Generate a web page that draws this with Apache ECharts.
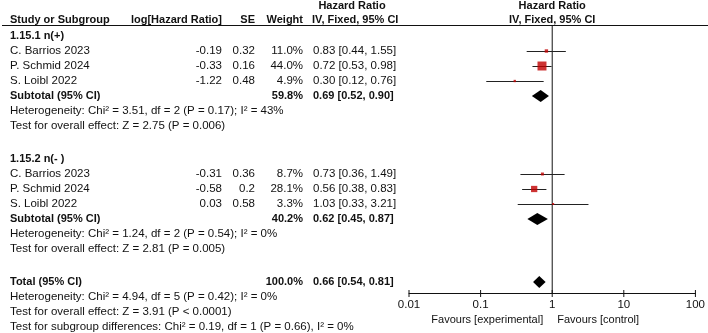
<!DOCTYPE html>
<html>
<head>
<meta charset="utf-8">
<script src="https://cdn.jsdelivr.net/npm/echarts@6/dist/echarts.min.js"></script>
<style>
html,body{margin:0;padding:0;background:#fff;}
#chart{width:708px;height:333px;}
</style>
</head>
<body>
<div id="chart"></div>
<script>
// data
const groupNames = ['1.15.1 n(+)', '1.15.2 n(- )'];
const studyNames = [
  ['C. Barrios 2023', 'P. Schmid 2024', 'S. Loibl 2022'],
  ['C. Barrios 2023', 'P. Schmid 2024', 'S. Loibl 2022']
];
const logHR = [[-0.19, -0.33, -1.22], [-0.31, -0.58, 0.03]];
const seVals = [[0.32, 0.16, 0.48], [0.36, 0.2, 0.58]];
const weights = [[11.0, 44.0, 4.9], [8.7, 28.1, 3.3]];
const hrEst = [[0.83, 0.72, 0.30], [0.73, 0.56, 1.03]];
const hrLow = [[0.44, 0.53, 0.12], [0.36, 0.38, 0.33]];
const hrHigh = [[1.55, 0.98, 0.76], [1.49, 0.83, 3.21]];

const subWeight = [59.8, 40.2];
const subEst = [0.69, 0.62];
const subLow = [0.52, 0.45];
const subHigh = [0.90, 0.87];
const subHetero = [
  'Heterogeneity: Chi\u00b2 = 3.51, df = 2 (P = 0.17); I\u00b2 = 43%',
  'Heterogeneity: Chi\u00b2 = 1.24, df = 2 (P = 0.54); I\u00b2 = 0%'
];
const subEffect = [
  'Test for overall effect: Z = 2.75 (P = 0.006)',
  'Test for overall effect: Z = 2.81 (P = 0.005)'
];

const totalWeight = 100.0;
const totalEst = 0.66;
const totalLow = 0.54;
const totalHigh = 0.81;
const totalNotes = [
  'Heterogeneity: Chi\u00b2 = 4.94, df = 5 (P = 0.42); I\u00b2 = 0%',
  'Test for overall effect: Z = 3.91 (P < 0.0001)',
  'Test for subgroup differences: Chi\u00b2 = 0.19, df = 1 (P = 0.66), I\u00b2 = 0%'
];

const axisTicks = [0.01, 0.1, 1, 10, 100];
const nullValue = 1;
const favourLeft = 'Favours [experimental]';
const favourRight = 'Favours [control]';

// layout
const FONT = 'Liberation Sans, Arial, sans-serif';
const TXT = '#111';
const ROW0 = 36, ROWH = 15, GAP = 2.2;
const GRID_TOP = 25, AXIS_Y = 293;
const Y_MIN = (GRID_TOP - ROW0) / ROWH, Y_MAX = (AXIS_Y - ROW0) / ROWH;

const fmtCI = (e, l, h) => e.toFixed(2) + ' [' + l.toFixed(2) + ', ' + h.toFixed(2) + ']';

let r = 0;
const textRows = [];
const ciData = [], sqData = [], dmData = [];
groupNames.forEach((g, gi) => {
  textRows.push({row: r, name: g, bold: true});
  studyNames[gi].forEach((s, i) => {
    r++;
    textRows.push({
      row: r, name: s,
      lhr: String(logHR[gi][i]), se: String(seVals[gi][i]),
      w: weights[gi][i].toFixed(1) + '%',
      ci: fmtCI(hrEst[gi][i], hrLow[gi][i], hrHigh[gi][i])
    });
    ciData.push([hrLow[gi][i], hrHigh[gi][i], r]);
    sqData.push([hrEst[gi][i], r, weights[gi][i]]);
  });
  r++;
  textRows.push({row: r, name: 'Subtotal (95% CI)', bold: true,
    w: subWeight[gi].toFixed(1) + '%', ci: fmtCI(subEst[gi], subLow[gi], subHigh[gi])});
  dmData.push([subEst[gi], subLow[gi], subHigh[gi], r]);
  r++;
  textRows.push({row: r, name: subHetero[gi]});
  r++;
  textRows.push({row: r, name: subEffect[gi]});
  r += GAP;
});
textRows.push({row: r, name: 'Total (95% CI)', bold: true,
  w: totalWeight.toFixed(1) + '%', ci: fmtCI(totalEst, totalLow, totalHigh)});
dmData.push([totalEst, totalLow, totalHigh, r]);
totalNotes.forEach(t => { r++; textRows.push({row: r, name: t}); });

const chart = echarts.init(document.getElementById('chart'));

chart.setOption({
  animation: false,
  grid: {left: 409, right: 12, top: GRID_TOP, bottom: 333 - AXIS_Y},
  xAxis: {
    type: 'log', logBase: 10, min: 0.01, max: 100,
    splitLine: {show: false},
    axisLine: {show: true, onZero: false, lineStyle: {color: '#111', width: 1}},
    axisTick: {show: false},
    axisLabel: {
      margin: 6,
      fontFamily: FONT, fontSize: 11.5, color: TXT,
      formatter: v => String(axisTicks.find(t => Math.abs(Math.log10(t) - Math.log10(v)) < 1e-6) ?? v)
    }
  },
  yAxis: {
    type: 'value', inverse: true,
    min: Y_MIN, max: Y_MAX,
    axisLine: {show: false}, axisTick: {show: false},
    axisLabel: {show: false}, splitLine: {show: false}
  },
  series: [
    {
      // line of no effect as a plain two-point line series
      type: 'line',
      data: [[nullValue, Y_MIN], [nullValue, Y_MAX]],
      showSymbol: false,
      symbol: 'none',
      lineStyle: {color: '#111', width: 1},
      z: 1
    },
    {
      type: 'custom',
      data: ciData,
      encode: {x: [0, 1], y: 2},
      renderItem: (params, api) => {
        const a = api.coord([api.value(0), api.value(2)]);
        const b = api.coord([api.value(1), api.value(2)]);
        const y = Math.round(a[1]) + 0.5;
        return {
          type: 'line',
          shape: {x1: a[0], y1: y, x2: b[0], y2: y},
          style: {stroke: '#222', lineWidth: 1}
        };
      }
    },
    {
      type: 'scatter',
      data: sqData,
      encode: {x: 0, y: 1},
      symbol: 'rect',
      symbolSize: v => 1.5 + 0.17 * v[2],
      itemStyle: {color: '#c00000'}
    },
    {
      type: 'custom',
      data: dmData,
      encode: {x: [1, 2], y: 3},
      renderItem: (params, api) => {
        const row = api.value(3);
        const c = api.coord([api.value(0), row]);
        const l = api.coord([api.value(1), row]);
        const h = api.coord([api.value(2), row]);
        return {
          type: 'polygon',
          shape: {points: [[l[0], c[1]], [c[0], c[1] - 6], [h[0], c[1]], [c[0], c[1] + 6]]},
          style: {fill: '#000'}
        };
      }
    }
  ]
});

// table text and crossing ticks placed through the chart's own scales
const rowY = row => chart.convertToPixel({yAxisIndex: 0}, row);
const colX = v => chart.convertToPixel({xAxisIndex: 0}, v);
const xOne = colX(nullValue);
const g = [];
const txt = (text, x, y, align, bold, size) => g.push({
  type: 'text', silent: true,
  style: {
    text: text, x: x, y: y,
    textAlign: align, textVerticalAlign: 'middle',
    font: (bold ? 'bold 11px ' : (size || 11.5) + 'px ') + FONT,
    fill: TXT
  }
});
const yAxisPx = rowY(Y_MAX);
axisTicks.forEach(v => {
  const x = colX(v);
  g.push({
    type: 'line', silent: true, z: 10,
    shape: {x1: x, y1: yAxisPx - 3, x2: x + 0.01, y2: yAxisPx + 4},
    style: {stroke: '#111', lineWidth: 1}
  });
});

const hy1 = ROW0 - 30, hy2 = ROW0 - 16;
txt('Hazard Ratio', 352, hy1, 'center', true);
txt('Study or Subgroup', 10, hy2, 'left', true);
txt('log[Hazard Ratio]', 222, hy2, 'right', true);
txt('SE', 255, hy2, 'right', true);
txt('Weight', 303, hy2, 'right', true);
txt('IV, Fixed, 95% CI', 312, hy2, 'left', true);
txt('Hazard Ratio', xOne, hy1, 'center', true);
txt('IV, Fixed, 95% CI', xOne, hy2, 'center', true);
g.push({
  type: 'line', silent: true,
  shape: {x1: 2, y1: GRID_TOP + 0.5, x2: 708, y2: GRID_TOP + 0.5},
  style: {stroke: '#111', lineWidth: 1}
});

textRows.forEach(t => {
  const y = rowY(t.row);
  txt(t.name, 10, y, 'left', t.bold);
  if (t.lhr) txt(t.lhr, 222, y, 'right', false);
  if (t.se) txt(t.se, 255, y, 'right', false);
  if (t.w) txt(t.w, 303, y, 'right', t.bold);
  if (t.ci) txt(t.ci, 313, y, 'left', t.bold);
});

txt(favourLeft, xOne - 9, 320, 'right', false, 11);
txt(favourRight, xOne + 5, 320, 'left', false, 11);

chart.setOption({graphic: {elements: g}});
</script>
</body>
</html>
